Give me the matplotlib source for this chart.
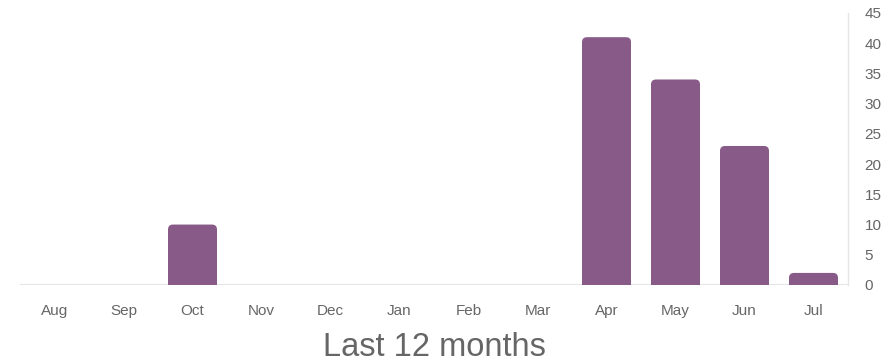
import matplotlib
matplotlib.use("Agg")
import matplotlib.pyplot as plt
from matplotlib.patches import FancyBboxPatch

months = ["Aug", "Sep", "Oct", "Nov", "Dec", "Jan", "Feb", "Mar", "Apr", "May", "Jun", "Jul"]
counts = [0, 0, 10, 0, 0, 0, 0, 0, 41, 34, 23, 2]
yticks = [0, 5, 10, 15, 20, 25, 30, 35, 40, 45]

BAR = "#875a87"
TEXT = "#666666"
LINE = "#e6e6e6"

plt.rcParams["font.family"] = ["Liberation Sans", "DejaVu Sans"]

fig = plt.figure(figsize=(8.96, 3.64), dpi=100)
ax = fig.add_axes([20 / 896, 1 - 285 / 364, 828 / 896, 272 / 364])
ax.set_xlim(-0.5, 11.5)
ax.set_ylim(0, 45)

# pixel size of one data unit, used to keep the corner radius round
px_x = 828 / 12
px_y = 272 / 45
radius_px = 5
width = 0.71
for i, v in enumerate(counts):
    if v <= 0:
        continue
    r = radius_px / px_x
    box = FancyBboxPatch((i - width / 2, -3), width, v + 3,
                         boxstyle=f"round,pad=0,rounding_size={r}",
                         mutation_aspect=px_x / px_y,
                         facecolor=BAR, edgecolor="none", clip_on=True)
    ax.add_patch(box)

for s in ["top", "left", "bottom"]:
    ax.spines[s].set_visible(False)
ax.spines["right"].set_color(LINE)
ax.spines["right"].set_linewidth(1)
ax.axhline(0, color=LINE, linewidth=1.5, zorder=0)

ax.yaxis.tick_right()
ax.set_yticks(yticks)
ax.set_yticklabels([str(t) for t in yticks])
ax.set_xticks(range(len(months)))
ax.set_xticklabels(months)
ax.tick_params(axis="y", length=0, pad=12, labelsize=11, labelcolor=TEXT)
ax.tick_params(axis="x", length=0, pad=14, labelsize=11, labelcolor=TEXT)

fig.text(434 / 896, 1 - 348 / 364, "Last 12 months", ha="center", va="center",
         fontsize=23.5, color=TEXT)

fig.savefig("out.png", dpi=100)
